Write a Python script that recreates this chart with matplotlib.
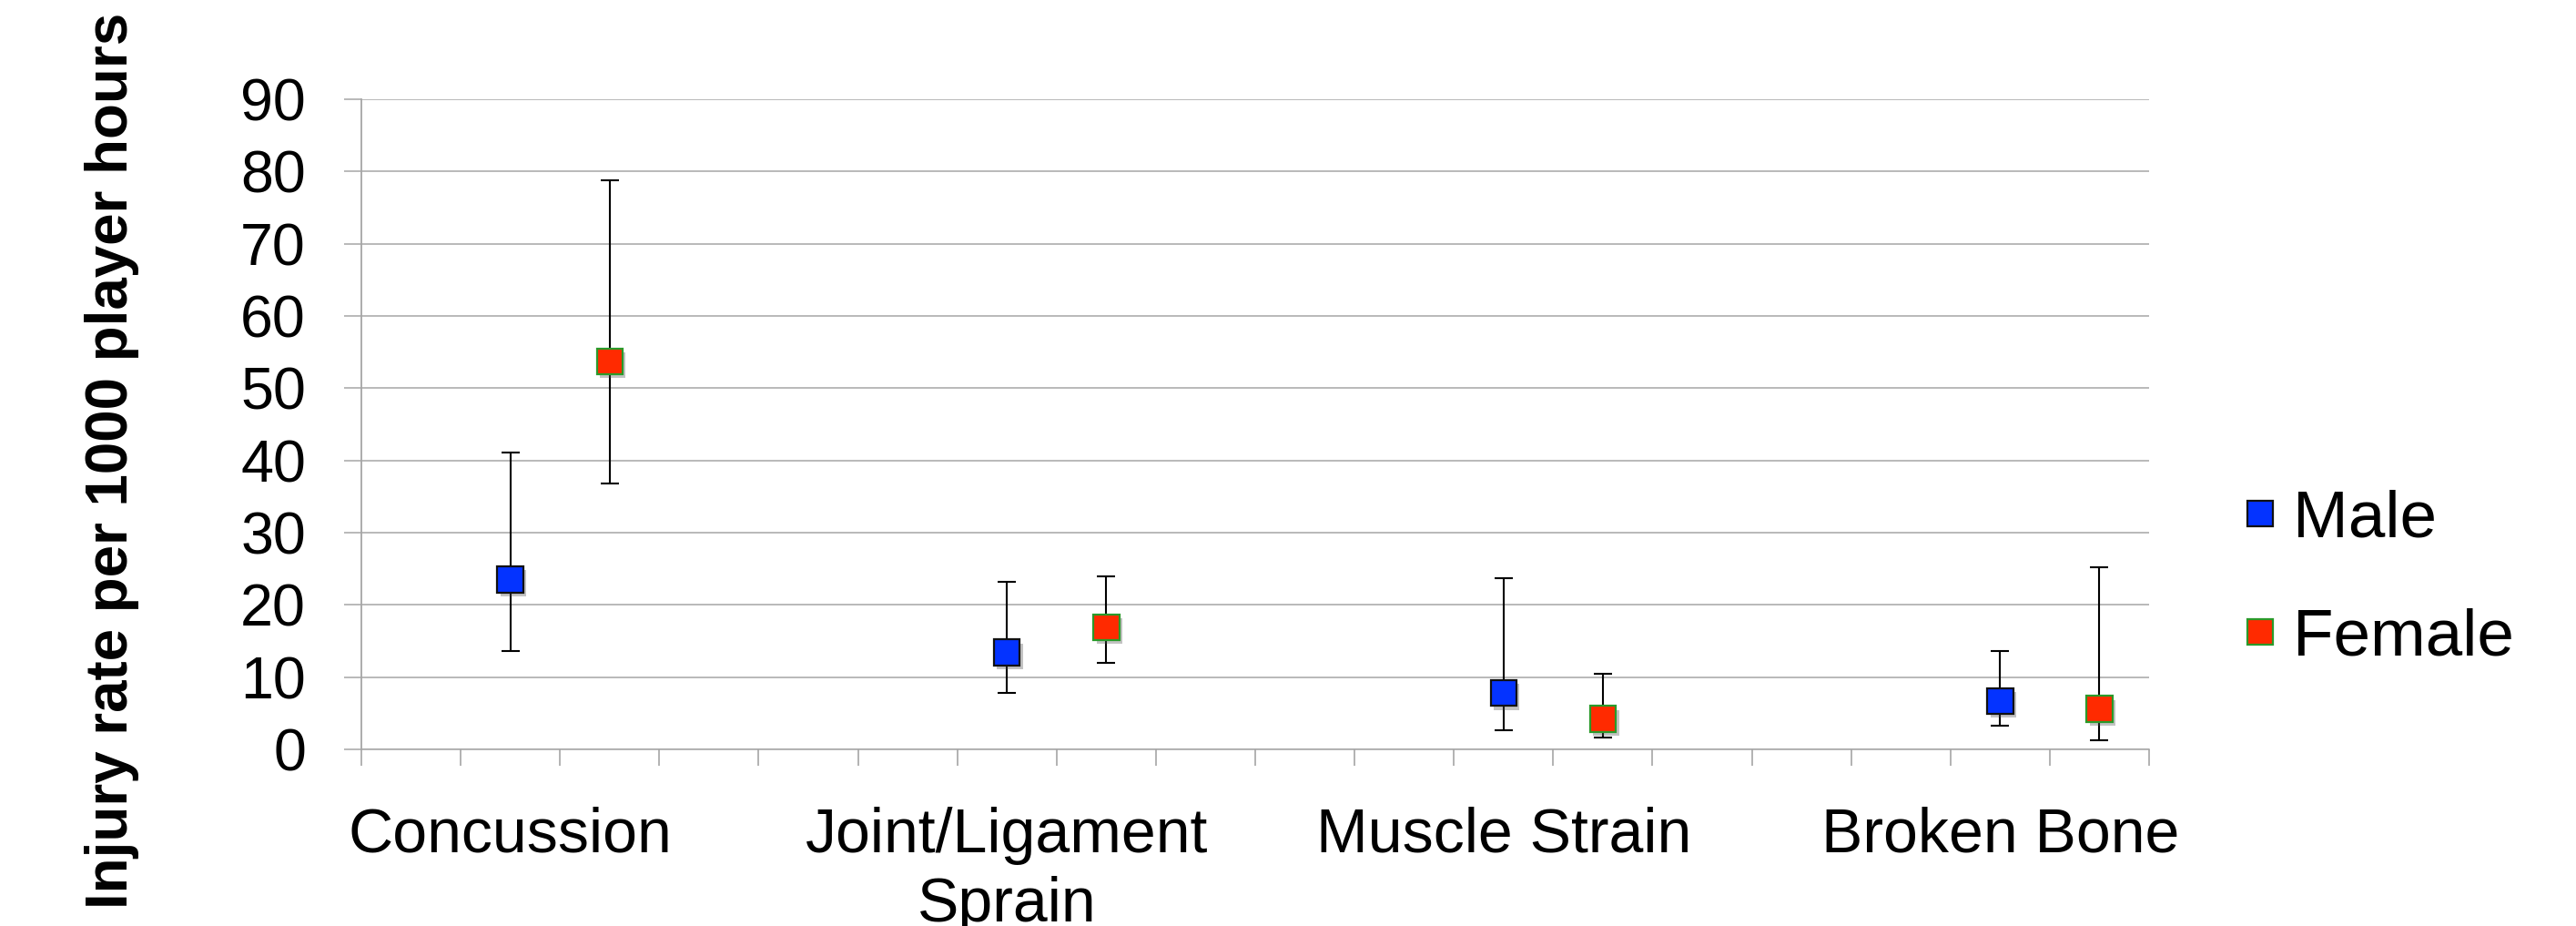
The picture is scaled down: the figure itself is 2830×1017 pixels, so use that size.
import matplotlib
matplotlib.use("Agg")
import matplotlib.pyplot as plt
import matplotlib.patheffects as pe
from matplotlib.lines import Line2D
import numpy as np

plt.rcParams['font.family'] = ['Liberation Sans', 'DejaVu Sans']

categories = ["Concussion", "Joint/Ligament\nSprain", "Muscle Strain", "Broken Bone"]
male = [23.5, 13.4, 7.8, 6.7]
male_lo = [13.6, 7.8, 2.6, 3.3]
male_hi = [41.1, 23.2, 23.7, 13.6]
female = [53.7, 16.9, 4.2, 5.6]
female_lo = [36.8, 12.0, 1.7, 1.3]
female_hi = [78.8, 24.0, 10.5, 25.2]
yticks = [0, 10, 20, 30, 40, 50, 60, 70, 80, 90]
series_names = ["Male", "Female"]

BLUE = "#0433FF"
RED = "#FF2A00"
GREEN = "#2A9A2A"
GRID = "#A6A6A6"

slots_per_cat = 5
n_slots = 18
cat_idx = np.arange(len(categories))
x_male = 1 + slots_per_cat * cat_idx
x_female = x_male + 1

fig = plt.figure(figsize=(28.30, 10.17), dpi=100)
ax = fig.add_axes([397/2830, 1-823/1017, (2361-397)/2830, (823-109)/1017])

shadow = [pe.SimplePatchShadow(offset=(2.5, -3), shadow_rgbFace='#555555', alpha=0.35), pe.Normal()]

for xs, vals, lo, hi, fc, ec in [(x_male, male, male_lo, male_hi, BLUE, '#111111'),
                                  (x_female, female, female_lo, female_hi, RED, GREEN)]:
    vals = np.array(vals); lo = np.array(lo); hi = np.array(hi)
    ax.errorbar(xs, vals, yerr=[vals - lo, hi - vals], fmt='none', ecolor='black',
                elinewidth=1.5, capsize=7.5, capthick=1.5, zorder=3)
    ax.plot(xs, vals, linestyle='none', marker='s', markersize=20.5, markerfacecolor=fc,
            markeredgecolor=ec, markeredgewidth=1.6, zorder=4, path_effects=shadow)

ax.set_xlim(-0.5, n_slots - 0.5)
ax.set_ylim(0, 90)
ax.set_yticks(yticks)
ax.set_yticklabels([str(v) for v in yticks], fontsize=46.5)
ax.set_xticks(x_male)
ax.set_xticklabels(categories, fontsize=49, linespacing=1.25)
ax.set_xticks(np.arange(-0.5, n_slots, 1.0), minor=True)
ax.tick_params(axis='x', which='major', length=0, pad=45)
ax.tick_params(axis='x', which='minor', length=13, width=1.2, color=GRID, direction='out')
ax.tick_params(axis='y', which='major', length=14, width=1.1, color=GRID, pad=30)

ax.grid(axis='y', color=GRID, linewidth=1.1, zorder=0)
ax.set_axisbelow(True)
for s in ['top', 'right']:
    ax.spines[s].set_visible(False)
ax.spines['left'].set_color(GRID)
ax.spines['left'].set_linewidth(1.3)
ax.spines['bottom'].set_color(GRID)
ax.spines['bottom'].set_linewidth(1.1)

fig.text(123/2830, 1-506/1017, "Injury rate per 1000 player hours", rotation=90,
         ha='center', va='center', fontsize=45.8, fontweight='bold')

handles = [Line2D([], [], linestyle='none', marker='s', markersize=20, markerfacecolor=BLUE,
                  markeredgecolor='#111111', markeredgewidth=1.6),
           Line2D([], [], linestyle='none', marker='s', markersize=20, markerfacecolor=RED,
                  markeredgecolor=GREEN, markeredgewidth=1.6)]
fig.legend(handles, series_names, loc='center left', bbox_to_anchor=(2461/2830, 1-636/1017),
           frameon=False, fontsize=52.5, handlelength=0.6, handletextpad=0.2,
           labelspacing=0.87, borderpad=0, borderaxespad=0)

fig.savefig("out.png", dpi=100)
